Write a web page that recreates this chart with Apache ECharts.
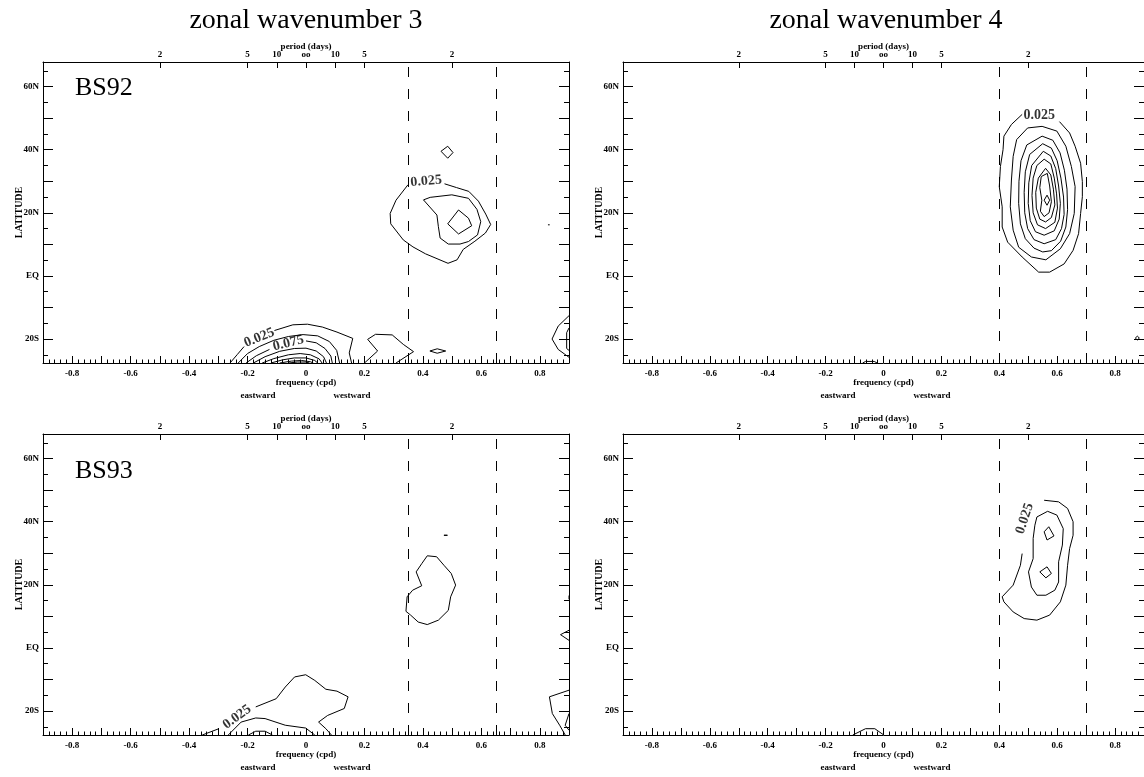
<!DOCTYPE html>
<html>
<head>
<meta charset="utf-8">
<title>zonal wavenumber 3 / 4</title>
<script src="https://cdn.jsdelivr.net/npm/echarts@6/dist/echarts.min.js"></script>
<style>
  html, body { margin: 0; background: #fff; }
  #chart { width: 1144px; height: 777px; }
</style>
</head>
<body>
<div id="chart"></div>
<script>
// ---- axis ticks / labels ----
const freqLabelValues = [-0.8, -0.6, -0.4, -0.2, 0, 0.2, 0.4, 0.6, 0.8];
const freqMajorTicks = [-0.9, -0.8, -0.7, -0.6, -0.5, -0.4, -0.3, -0.2, -0.1, 0, 0.1, 0.2, 0.3, 0.4, 0.5, 0.6, 0.7, 0.8, 0.9];
const periodTickFreqs = [-0.5, -0.2, -0.1, 0, 0.1, 0.2, 0.5];
const periodTickLabels = ['2', '5', '10', 'oo', '10', '5', '2'];
const latLabelValues = [-20, 0, 20, 40, 60];
const latLabels = ['20S', 'EQ', '20N', '40N', '60N'];
const latMajorTicks = [-20, -10, 0, 10, 20, 30, 40, 50, 60];
const latMinorTicks = [-25, -15, -5, 5, 15, 25, 35, 45, 55, 65];

// minor frequency ticks every 0.02 cpd
const freqMinorTicks = [];
for (let i = -45; i <= 45; i++) freqMinorTicks.push(+(i * 0.02).toFixed(2));

// ---- dashed frequency bands ----
const wave3Dashes = [0.35, 0.65];
const wave4Dashes = [0.4, 0.7];

// ---- contour lines: [frequency (cpd), latitude] ----
const bs92w3Contours = [
  [[0.462, 39.5], [0.485, 41.1], [0.503, 39.1], [0.485, 37.3], [0.462, 39.5]],
  [[0.349, 28.9], [0.308, 24.0], [0.288, 19.8], [0.290, 16.5], [0.333, 11.4], [0.366, 9.2], [0.409, 7.0], [0.486, 4.0], [0.517, 5.1], [0.538, 8.4], [0.578, 11.0], [0.614, 13.6], [0.632, 16.3], [0.615, 19.6], [0.590, 23.7], [0.557, 26.8], [0.515, 28.0], [0.474, 29.2]],
  [[0.402, 24.1], [0.425, 24.9], [0.499, 25.7], [0.556, 24.6], [0.585, 21.1], [0.598, 17.2], [0.587, 13.0], [0.556, 10.9], [0.527, 10.1], [0.487, 10.1], [0.459, 12.0], [0.453, 15.6], [0.448, 19.3], [0.402, 24.1]],
  [[0.485, 16.5], [0.522, 20.9], [0.556, 18.3], [0.567, 15.9], [0.522, 13.3], [0.485, 16.5]],
  [[0.828, 16.2], [0.834, 16.2]],
  [[-0.26, -27.6], [-0.235, -24.9], [-0.212, -22.4]],
  [[-0.108, -17.3], [-0.045, -15.5], [0.005, -15.3], [0.056, -16.2], [0.106, -17.8], [0.16, -19.8], [0.148, -24.4], [0.156, -27.6]],
  [[-0.232, -27.6], [-0.2, -24.6], [-0.16, -22.4], [-0.11, -20.4], [-0.06, -19.2], [-0.01, -18.6], [0.04, -19.0], [0.08, -20.8], [0.105, -23.6], [0.115, -27.6]],
  [[-0.205, -27.6], [-0.17, -25.3], [-0.125, -23.3]],
  [[0.0, -20.6], [0.035, -21.2], [0.065, -23.0], [0.085, -25.4], [0.09, -27.6]],
  [[-0.18, -27.6], [-0.14, -25.6], [-0.09, -23.9], [-0.04, -23.0], [0.0, -22.9], [0.035, -23.8], [0.06, -25.6], [0.07, -27.6]],
  [[-0.15, -27.6], [-0.11, -26.2], [-0.06, -25.0], [-0.02, -24.6], [0.015, -25.0], [0.045, -26.3], [0.055, -27.6]],
  [[-0.12, -27.6], [-0.08, -26.6], [-0.04, -26.0], [0.0, -26.0], [0.03, -26.8], [0.04, -27.6]],
  [[-0.09, -27.6], [-0.05, -27.0], [-0.015, -26.8], [0.015, -27.2], [0.025, -27.6]],
  [[-0.06, -27.6], [-0.03, -27.3], [0.0, -27.3], [0.012, -27.6]],
  [[0.2, -27.6], [0.245, -23.8], [0.211, -20.1], [0.238, -18.5], [0.295, -18.7], [0.333, -21.7], [0.368, -24.0], [0.308, -27.6]],
  [[0.424, -23.8], [0.449, -23.1], [0.478, -23.8], [0.449, -24.5], [0.424, -23.8]],
  [[0.9, -12.6], [0.863, -15.9], [0.842, -20.0], [0.863, -23.3], [0.9, -25.8]],
  [[0.9, -16.5], [0.892, -18.0], [0.892, -23.0], [0.9, -23.6]]
];

const bs92w4Contours = [
  [[0.479, 51.2], [0.442, 48.0], [0.416, 44.3], [0.413, 40.0], [0.404, 34.7], [0.400, 28.3], [0.410, 21.9], [0.410, 15.5], [0.429, 10.7], [0.479, 6.0], [0.536, 1.2], [0.574, 1.2], [0.624, 3.8], [0.655, 8.1], [0.674, 13.4], [0.681, 19.8], [0.687, 25.1], [0.687, 29.9], [0.681, 35.7], [0.662, 41.1], [0.643, 45.3], [0.608, 48.9]],
  [[0.548, 47.4], [0.599, 45.9], [0.630, 41.1], [0.649, 34.7], [0.662, 28.3], [0.659, 19.8], [0.643, 13.4], [0.611, 8.6], [0.561, 5.1], [0.511, 6.0], [0.467, 9.1], [0.448, 14.5], [0.438, 21.9], [0.442, 30.4], [0.448, 37.9], [0.460, 43.2], [0.498, 46.9], [0.548, 47.4]],
  [[0.548, 44.3], [0.585, 43.0], [0.610, 39.0], [0.625, 33.5], [0.634, 27.5], [0.636, 21.0], [0.630, 15.5], [0.612, 11.0], [0.580, 8.0], [0.550, 7.6], [0.520, 8.8], [0.490, 11.8], [0.473, 16.5], [0.467, 23.0], [0.468, 30.0], [0.475, 36.5], [0.495, 41.5], [0.548, 44.3]],
  [[0.550, 41.9], [0.580, 40.5], [0.600, 36.5], [0.613, 31.0], [0.622, 25.0], [0.624, 19.5], [0.615, 15.0], [0.595, 11.5], [0.555, 10.2], [0.520, 11.5], [0.498, 15.0], [0.488, 20.0], [0.486, 26.5], [0.490, 33.0], [0.505, 38.5], [0.550, 41.9]],
  [[0.552, 39.5], [0.578, 38.0], [0.595, 34.0], [0.605, 28.5], [0.611, 23.0], [0.607, 18.0], [0.590, 14.3], [0.555, 12.9], [0.525, 14.0], [0.507, 17.5], [0.500, 23.0], [0.502, 29.5], [0.512, 35.0], [0.552, 39.5]],
  [[0.555, 37.0], [0.578, 35.5], [0.590, 31.0], [0.598, 26.0], [0.601, 21.5], [0.592, 17.0], [0.560, 15.0], [0.532, 16.2], [0.517, 20.0], [0.513, 25.5], [0.517, 31.0], [0.530, 35.0], [0.555, 37.0]],
  [[0.560, 34.1], [0.578, 32.0], [0.587, 27.5], [0.592, 22.5], [0.580, 18.5], [0.560, 17.1], [0.540, 18.0], [0.528, 21.5], [0.526, 26.5], [0.535, 31.0], [0.560, 34.1]],
  [[0.545, 31.5], [0.566, 32.5], [0.574, 28.5], [0.580, 23.5], [0.572, 20.0], [0.555, 18.8], [0.542, 20.5], [0.547, 24.0], [0.540, 28.0], [0.545, 31.5]],
  [[0.555, 24.0], [0.565, 25.6], [0.574, 24.0], [0.565, 22.4], [0.555, 24.0]],
  [[-0.072, -27.6], [-0.062, -27.1], [-0.032, -27.1], [-0.022, -27.6]],
  [[0.870, -19.7], [0.877, -19.1], [0.884, -19.7], [0.877, -20.3], [0.870, -19.7]]
];

const bs93w3Contours = [
  [[0.472, 35.7], [0.478, 36.1], [0.484, 35.7], [0.478, 35.3], [0.472, 35.7]],
  [[0.415, 29.2], [0.447, 28.9], [0.472, 26.2], [0.497, 23.6], [0.512, 19.9], [0.495, 16.2], [0.487, 11.9], [0.453, 8.8], [0.415, 7.4], [0.384, 8.2], [0.358, 10.4], [0.342, 11.6], [0.346, 16.2], [0.365, 18.3], [0.396, 19.7], [0.377, 24.1], [0.396, 26.7], [0.415, 29.2]],
  [[-0.355, -27.6], [-0.298, -25.6]],
  [[-0.172, -18.7], [-0.102, -16.1], [-0.071, -12.4], [-0.039, -9.2], [-0.001, -8.5], [0.030, -10.3], [0.068, -13.1], [0.106, -13.7], [0.144, -15.5], [0.131, -19.2], [0.074, -21.4], [0.043, -23.5], [0.068, -25.6], [0.087, -27.6]],
  [[-0.266, -27.6], [-0.222, -23.5], [-0.172, -22.2], [-0.14, -22.4], [-0.071, -24.5], [-0.001, -25.4], [0.03, -27.6]],
  [[-0.197, -27.6], [-0.172, -26.4], [-0.14, -26.4], [-0.115, -27.6]],
  [[0.9, 5.6], [0.871, 4.2], [0.9, 2.4]],
  [[0.9, -13.4], [0.833, -15.5], [0.843, -20.8], [0.868, -24.5], [0.887, -27.6]],
  [[0.9, -20.8], [0.887, -24.5], [0.9, -26.1]],
  [[0.9, 16.6], [0.894, 16.0], [0.9, 15.4]]
];

const bs93w4Contours = [
  [[0.479, 29.9], [0.473, 26.2], [0.448, 19.9], [0.410, 16.2], [0.416, 14.6], [0.448, 11.4], [0.486, 9.3], [0.530, 8.8], [0.574, 10.4], [0.611, 14.6], [0.630, 19.9], [0.636, 26.2], [0.643, 31.5], [0.655, 35.7], [0.655, 40.0], [0.636, 44.2], [0.605, 46.3], [0.555, 46.8]],
  [[0.530, 41.5], [0.567, 43.3], [0.599, 42.1], [0.621, 37.8], [0.618, 32.6], [0.605, 27.3], [0.605, 20.9], [0.592, 18.3], [0.561, 16.7], [0.530, 16.7], [0.511, 19.3], [0.501, 24.1], [0.517, 28.3], [0.517, 34.7], [0.523, 38.9], [0.530, 41.5]],
  [[0.555, 36.8], [0.571, 38.4], [0.589, 35.5], [0.565, 34.2], [0.555, 36.8]],
  [[0.540, 24.1], [0.565, 25.7], [0.580, 23.6], [0.561, 22.2], [0.540, 24.1]],
  [[-0.106, -27.6], [-0.062, -25.6], [-0.030, -25.6], [0.001, -27.6]]
];

// ---- contour labels: text, [frequency, latitude], angle ----
const bs92w3Labels = [['0.025', [0.411, 30.0], 5], ['0.025', [-0.16, -19.6], 22], ['0.075', [-0.06, -21.3], 14]];
const bs92w4Labels = [['0.025', [0.538, 51.0], 0]];
const bs93w3Labels = [['0.025', [-0.236, -21.9], 36]];
const bs93w4Labels = [['0.025', [0.488, 41.0], 72]];

// ---- rendering ----
const FONT = '"Liberation Serif", "Times New Roman", serif';
const LAT_MIN = -27.6, LAT_MAX = 67.8;

const panels = [
  { title: 'zonal wavenumber 3', tag: 'BS92', contours: bs92w3Contours, labels: bs92w3Labels, dashes: wave3Dashes, left: 43, top: 62, tagY: 88 },
  { title: 'zonal wavenumber 4', tag: null, contours: bs92w4Contours, labels: bs92w4Labels, dashes: wave4Dashes, left: 623, top: 62 },
  { title: null, tag: 'BS93', contours: bs93w3Contours, labels: bs93w3Labels, dashes: wave3Dashes, left: 43, top: 434, tagY: 471 },
  { title: null, tag: null, contours: bs93w4Contours, labels: bs93w4Labels, dashes: wave4Dashes, left: 623, top: 434 }
];
const PW = 526, PH = 301;

const labelFont = { color: '#000', fontFamily: FONT, fontWeight: 'bold', fontSize: 9 };
const black = { color: '#000', width: 1 };

const grid = [], xAxis = [], yAxis = [], series = [], graphic = [];

panels.forEach((p, gi) => {
  grid.push({ left: p.left, top: p.top, width: PW, height: PH });

  // bottom frequency axis (major ticks + labels)
  xAxis.push({
    gridIndex: gi, type: 'value', min: -0.9, max: 0.9, position: 'bottom',
    axisLine: { show: true, onZero: false, lineStyle: black },
    axisTick: { show: true, inside: true, length: 7, customValues: freqMajorTicks, lineStyle: black },
    axisLabel: { show: true, customValues: freqLabelValues, margin: 6, ...labelFont,
      formatter: v => (Math.abs(v) < 1e-9 ? '0' : String(+v.toFixed(1))) },
    splitLine: { show: false },
    name: 'frequency (cpd)', nameLocation: 'middle', nameGap: 15, nameMoveOverlap: false,
    nameTextStyle: labelFont
  });
  // bottom minor ticks
  xAxis.push({
    gridIndex: gi, type: 'value', min: -0.9, max: 0.9, position: 'bottom',
    axisLine: { show: false, onZero: false },
    axisTick: { show: true, inside: true, length: 3.5, customValues: freqMinorTicks, lineStyle: black },
    axisLabel: { show: false }, splitLine: { show: false }
  });
  // top period axis
  xAxis.push({
    gridIndex: gi, type: 'value', min: -0.9, max: 0.9, position: 'top',
    axisLine: { show: true, onZero: false, lineStyle: black },
    axisTick: { show: true, inside: true, length: 6, customValues: periodTickFreqs, lineStyle: black },
    axisLabel: { show: true, customValues: periodTickFreqs, margin: 3, ...labelFont,
      formatter: v => {
        const i = periodTickFreqs.findIndex(f => Math.abs(f - v) < 1e-6);
        return i < 0 ? '' : periodTickLabels[i];
      } },
    splitLine: { show: false },
    name: 'period (days)', nameLocation: 'middle', nameGap: 11, nameMoveOverlap: false,
    nameTextStyle: labelFont
  });

  // left latitude axis (major + labels), left minor, right major, right minor
  yAxis.push({
    gridIndex: gi, type: 'value', min: LAT_MIN, max: LAT_MAX, position: 'left',
    axisLine: { show: true, onZero: false, lineStyle: black },
    axisTick: { show: true, inside: true, length: 10, customValues: latMajorTicks, lineStyle: black },
    axisLabel: { show: true, customValues: latLabelValues, margin: 4, ...labelFont,
      formatter: v => latLabels[latLabelValues.indexOf(Math.round(v))] || '' },
    splitLine: { show: false },
    name: 'LATITUDE', nameLocation: 'middle', nameGap: 19, nameRotate: 90, nameMoveOverlap: false,
    nameTextStyle: { ...labelFont, fontSize: 10 }
  });
  yAxis.push({
    gridIndex: gi, type: 'value', min: LAT_MIN, max: LAT_MAX, position: 'left',
    axisLine: { show: false, onZero: false },
    axisTick: { show: true, inside: true, length: 5, customValues: latMinorTicks, lineStyle: black },
    axisLabel: { show: false }, splitLine: { show: false }
  });
  yAxis.push({
    gridIndex: gi, type: 'value', min: LAT_MIN, max: LAT_MAX, position: 'right',
    axisLine: { show: true, onZero: false, lineStyle: black },
    axisTick: { show: true, inside: true, length: 10, customValues: latMajorTicks, lineStyle: black },
    axisLabel: { show: false }, splitLine: { show: false }
  });
  yAxis.push({
    gridIndex: gi, type: 'value', min: LAT_MIN, max: LAT_MAX, position: 'right',
    axisLine: { show: false, onZero: false },
    axisTick: { show: true, inside: true, length: 5, customValues: latMinorTicks, lineStyle: black },
    axisLabel: { show: false }, splitLine: { show: false }
  });

  const xi = gi * 3, yi = gi * 4;

  // dashed band limits
  series.push({
    type: 'line', xAxisIndex: xi, yAxisIndex: yi, data: [], silent: true,
    markLine: {
      symbol: 'none', silent: true, animation: false, label: { show: false },
      lineStyle: { color: '#000', width: 1, type: [10, 12] },
      data: p.dashes.map(v => ({ xAxis: v }))
    }
  });

  // contour polylines
  p.contours.forEach(pts => {
    series.push({
      type: 'line', xAxisIndex: xi, yAxisIndex: yi, data: pts,
      symbol: 'none', showSymbol: false, smooth: false, silent: true,
      lineStyle: { color: '#000', width: 1 }
    });
  });

  // contour value labels
  p.labels.forEach(([text, at, angle]) => {
    series.push({
      type: 'scatter', xAxisIndex: xi, yAxisIndex: yi, data: [at],
      symbolSize: 0, silent: true,
      label: { show: true, position: 'inside', formatter: text, rotate: angle,
        color: '#000', textBorderWidth: 0, fontFamily: FONT, fontWeight: 'bold', fontSize: 14 }
    });
  });

  const cx = p.left + PW / 2;
  if (p.title) {
    graphic.push({ type: 'text', x: cx, y: 21,
      style: { text: p.title, fill: '#000', font: '28px ' + FONT, align: 'center', verticalAlign: 'middle' } });
  }
  if (p.tag) {
    graphic.push({ type: 'text', x: 75, y: p.tagY,
      style: { text: p.tag, fill: '#000', font: '26px ' + FONT, align: 'left', verticalAlign: 'middle' } });
  }
  // eastward / westward under the frequency axis
  const dirY = p.top + PH + 33;
  graphic.push({ type: 'text', x: cx - 48, y: dirY,
    style: { text: 'eastward', fill: '#000', font: 'bold 9px ' + FONT, align: 'center', verticalAlign: 'middle' } });
  graphic.push({ type: 'text', x: cx + 46, y: dirY,
    style: { text: 'westward', fill: '#000', font: 'bold 9px ' + FONT, align: 'center', verticalAlign: 'middle' } });
});

const chart = echarts.init(document.getElementById('chart'));
chart.setOption({
  animation: false,
  backgroundColor: '#fff',
  grid, xAxis, yAxis, series, graphic
});
</script>
</body>
</html>
